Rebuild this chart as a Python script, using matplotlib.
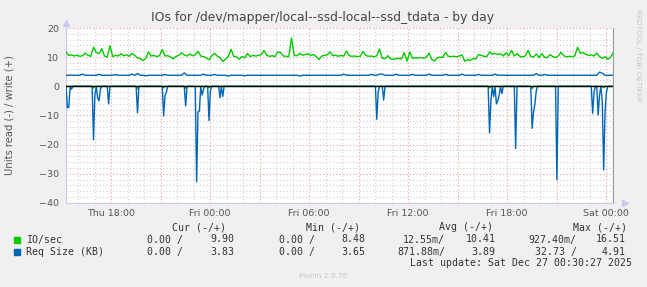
import matplotlib
matplotlib.use("Agg")
import matplotlib.pyplot as plt
import numpy as np

# time axis: hours relative to Fri 00:00, graph runs Thu 15:16 -> Sat 00:29
t_start = -8.73
t_end = 24.48

# IO/sec write, 10 minute samples
io_write = [
    11.7, 10.6, 10.8, 10.4, 10.7, 10.3, 10.5, 11.4, 10.6, 10.3,
    13.4, 11.6, 11.2, 12.9, 10.4, 10.0, 13.9, 10.2, 10.6, 10.4,
    11.2, 10.5, 10.8, 10.3, 11.3, 10.6, 9.7, 9.6, 8.8, 9.6,
    11.8, 10.4, 10.6, 10.2, 10.5, 12.6, 10.4, 10.5, 10.1, 9.4,
    10.3, 10.6, 11.5, 10.8, 10.4, 11.1, 10.5, 10.8, 12.0, 10.4,
    10.2, 9.8, 9.1, 10.5, 11.3, 10.4, 9.8, 8.5, 9.3, 10.2,
    12.7, 10.3, 10.1, 9.3, 10.2, 9.8, 11.3, 10.2, 10.6, 10.4,
    10.6, 10.9, 12.3, 10.6, 10.3, 10.5, 10.2, 11.8, 11.6, 10.4,
    10.3, 10.2, 16.6, 10.6, 10.5, 11.3, 10.7, 10.9, 11.2, 10.6,
    10.9, 10.2, 9.2, 10.4, 10.6, 10.8, 11.8, 10.5, 10.7, 10.3,
    10.6, 10.4, 12.1, 10.5, 10.3, 10.4, 10.2, 10.3, 12.0, 10.6,
    10.3, 10.4, 10.1, 10.5, 12.8, 9.6, 9.5, 10.5, 9.4, 9.3,
    9.5, 9.6, 9.4, 11.5, 8.6, 11.8, 9.6, 9.8, 9.7, 9.9,
    9.6, 10.0, 11.4, 9.2, 8.7, 9.8, 10.0, 9.9, 11.6, 10.3,
    10.2, 10.3, 10.1, 10.4, 10.8, 8.6, 9.2, 8.9, 9.5, 9.4,
    10.9, 10.6, 10.3, 10.2, 11.8, 11.0, 11.3, 10.9, 11.2, 10.4,
    11.5, 10.5, 12.3, 10.4, 11.2, 10.3, 10.1, 10.4, 12.3, 10.3,
    10.0, 11.1, 9.9, 11.2, 10.0, 9.8, 10.9, 10.2, 9.9, 10.4,
    11.7, 10.5, 10.1, 10.3, 10.2, 10.4, 13.4, 11.3, 11.6, 11.0,
    10.6, 10.8, 10.4, 11.4, 10.2, 9.6, 10.1, 9.3, 9.9, 11.6,
]

# Req Size (KB) write, 10 minute samples
req_write = [
    3.8, 3.8, 3.85, 3.8, 3.8, 3.8, 4.2, 3.8, 3.8, 3.8, 3.75, 3.8, 4.1, 3.8, 3.8, 3.8, 3.8, 3.85, 4.0, 3.8,
    3.8, 3.8, 3.8, 3.8, 4.2, 3.8, 4.4, 3.8, 3.8, 3.6, 3.8, 3.8, 3.8, 3.8, 3.8, 3.8, 4.1, 3.8, 3.8, 3.8,
    3.8, 3.8, 3.8, 4.6, 3.8, 3.8, 3.8, 3.8, 3.8, 3.8, 4.2, 3.8, 3.8, 3.8, 4.1, 3.8, 3.8, 3.8, 3.8, 3.5,
    3.8, 3.8, 3.8, 3.8, 3.8, 3.6, 3.8, 3.8, 3.8, 3.8, 3.8, 3.8, 3.8, 3.8, 3.8, 3.8, 3.8, 3.8, 3.8, 3.8,
    3.8, 3.8, 3.8, 3.8, 3.8, 3.5, 3.8, 3.8, 3.8, 3.8, 3.8, 3.8, 3.8, 3.8, 3.8, 3.8, 3.8, 3.8, 3.8, 3.8,
    3.8, 4.2, 3.8, 3.8, 3.8, 3.8, 3.8, 3.8, 3.8, 3.8, 3.8, 4.1, 3.8, 3.8, 4.2, 4.2, 3.8, 3.8, 3.8, 3.8,
    4.2, 3.8, 3.8, 3.8, 3.8, 3.8, 4.1, 3.8, 3.8, 3.8, 3.8, 3.8, 4.2, 3.8, 3.8, 3.8, 3.8, 3.8, 4.1, 3.8,
    3.8, 3.8, 3.8, 3.8, 4.2, 3.8, 3.8, 3.8, 3.8, 3.8, 4.1, 3.8, 3.8, 3.8, 3.8, 3.8, 4.2, 3.8, 3.8, 3.8,
    3.8, 3.8, 3.8, 3.8, 3.8, 3.8, 3.8, 3.8, 3.8, 3.8, 3.8, 4.4, 3.8, 3.8, 4.1, 3.8, 3.8, 3.8, 3.8, 3.8,
    3.8, 3.8, 3.8, 3.8, 3.8, 3.8, 3.8, 3.8, 3.8, 3.8, 3.8, 3.8, 3.8, 3.8, 4.9, 4.5, 3.8, 3.8, 3.8, 3.8,
]

# reads are zero except for short bursts (hour, value)
req_read_hours = [
    -8.64, -8.55, -8.42, -7.03, -6.94, -6.85, -6.76, -6.67, -6.15, -4.39,
    -2.79, -2.70, -2.61, -1.52, -0.79, -0.70, -0.61, -0.52, -0.42, -0.06,
    0.03, 0.64, 0.73, 10.12, 10.21, 10.55, 16.97, 17.06, 17.15, 17.33,
    17.42, 17.52, 17.70, 18.48, 19.48, 19.58, 19.67, 19.76, 21.03, 23.15,
    23.27, 23.48, 23.58, 23.76, 23.88, 23.97, 24.06,
]
req_read_vals = [
    7.3, 7.3, 1.0, 18.3, 3.0, 4.0, 5.0, 1.0, 6.0, 9.1,
    10.2, 3.0, 2.0, 6.7, 32.7, 8.8, 8.5, 3.0, 1.0, 11.7,
    1.5, 3.9, 3.5, 11.3, 2.0, 4.7, 15.9, 5.0, 3.5, 6.0,
    5.0, 3.0, 2.5, 21.3, 14.4, 8.8, 6.0, 1.5, 32.0, 9.3,
    2.0, 9.8, 3.0, 5.3, 28.7, 9.0, 2.0,
]
io_read_hours = [-7.03, -4.39, -2.79, -1.52, -0.06, 16.97, 19.48, 23.88]
io_read_vals = [0.6, 0.9, 0.5, 0.7, 0.5, 0.6, 0.8, 0.5]

xtick_hours = [-6, 0, 6, 12, 18, 24]
xtick_labels = ["Thu 18:00", "Fri 00:00", "Fri 06:00", "Fri 12:00", "Fri 18:00", "Sat 00:00"]
ytick_vals = [-40, -30, -20, -10, 0, 10, 20]

legend_rows = [
    ("IO/sec", "#00CC00", ["0.00 /", "9.90", "0.00 /", "8.48", "12.55m/", "10.41", "927.40m/", "16.51"]),
    ("Req Size (KB)", "#0066B3", ["0.00 /", "3.83", "0.00 /", "3.65", "871.88m/", "3.89", "32.73 /", "4.91"]),
]
headers = ["Cur (-/+)", "Min (-/+)", "Avg (-/+)", "Max (-/+)"]

W, H = 647, 287
fig = plt.figure(figsize=(W / 100, H / 100), dpi=100, facecolor="#F0F0F0")


def px(x, y):
    return x / W, 1 - y / H


ax_l, ax_t, ax_r, ax_b = 66, 28, 614, 203
ax = fig.add_axes([ax_l / W, 1 - ax_b / H, (ax_r - ax_l) / W, (ax_b - ax_t) / H])
ax.set_facecolor("white")
ax.set_xlim(t_start, t_end)
ax.set_ylim(-40, 20)

# grid like rrdtool: minor gray, major light red, dotted
dots = (0, (1, 2))
for h in np.arange(-8, 25, 1):
    col = "#E4A0A0" if h % 3 == 0 else "#CFCFCF"
    ax.axvline(h, color=col, lw=0.8, ls=dots, zorder=0)
for v in np.arange(-40, 21, 2):
    col = "#E4A0A0" if v % 10 == 0 else "#CFCFCF"
    ax.axhline(v, color=col, lw=0.8, ls=dots, zorder=0)

# series
t_w = t_start + np.arange(len(io_write)) / 6.0
ax.plot(t_w, io_write, color="#00CC00", lw=1.0, zorder=3)
ax.plot(t_w, req_write, color="#0066B3", lw=1.0, zorder=3)

t_r = np.arange(t_start, t_end, 1 / 12.0)
io_read = np.zeros(len(t_r))
req_read = np.zeros(len(t_r))
for h, v in zip(io_read_hours, io_read_vals):
    io_read[np.argmin(np.abs(t_r - h))] = -v
for h, v in zip(req_read_hours, req_read_vals):
    i = np.argmin(np.abs(t_r - h))
    req_read[i] = min(req_read[i], -v)
ax.plot(t_r, io_read, color="#00CC00", lw=1.0, zorder=3)
ax.plot(t_r, req_read, color="#0066B3", lw=1.0, zorder=4)

ax.axhline(0, color="black", lw=1.0, zorder=5)
ax.axvline(t_end - 0.05, color="#999999", lw=0.9, zorder=5)

for s in ["top", "right"]:
    ax.spines[s].set_visible(False)
for s in ["left", "bottom"]:
    ax.spines[s].set_color("#C8C8F0")
    ax.spines[s].set_linewidth(0.8)
ax.plot([0], [1.03], marker="^", color="#C8C8F0", ms=4, transform=ax.transAxes, clip_on=False)
ax.plot([1.02], [0], marker=">", color="#C8C8F0", ms=4, transform=ax.transAxes, clip_on=False)

ax.set_xticks(xtick_hours)
ax.set_xticklabels(xtick_labels)
ax.set_yticks(ytick_vals)
ax.tick_params(axis="both", length=0, labelsize=6.8, colors="#555555")
ax.tick_params(axis="x", pad=4)
ax.tick_params(axis="y", pad=5)

fig.text(*px(323, 18), "IOs for /dev/mapper/local--ssd-local--ssd_tdata - by day",
         ha="center", va="center", fontsize=8.9, color="#444444")
fig.text(*px(10, 115), "Units read (-) / write (+)", rotation=90,
         ha="center", va="center", fontsize=7.2, color="#555555")
fig.text(*px(638, 55), "RRDTOOL / TOBI OETIKER", rotation=-90,
         ha="center", va="center", fontsize=5.2, color="#C4C4C4")

mono = dict(family="DejaVu Sans Mono", fontsize=7.1, color="#333333", va="center")
for x, lab in zip([171.7, 305.7, 439, 572.7], headers):
    fig.text(*px(x, 227), lab, ha="left", **mono)
right_edges = [182.7, 234.3, 315, 365, 445, 495.7, 576.7, 626]
for y, (name, col, vals) in zip([239.5, 251.7], legend_rows):
    fig.patches.append(plt.Rectangle(px(14, y + 3), 6 / W, 6 / H, color=col,
                                     transform=fig.transFigure, figure=fig))
    fig.text(*px(26, y), name, ha="left", **mono)
    for x, v in zip(right_edges, vals):
        fig.text(*px(x, y), v, ha="right", **mono)
fig.text(*px(632.3, 263.3), "Last update: Sat Dec 27 00:30:27 2025", ha="right", **mono)
fig.text(*px(323, 276), "Munin 2.0.76", ha="center", va="center", fontsize=5.3, color="#C8C8C8")

fig.savefig("out.png", dpi=100, facecolor=fig.get_facecolor())
